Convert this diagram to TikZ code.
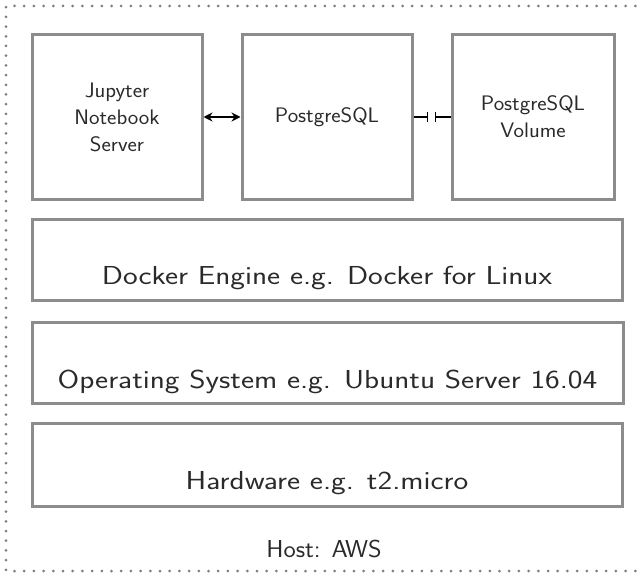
\documentclass[tikz,border=0pt]{standalone}
\usepackage{fontspec}
\newfontfamily\smallfont[FakeStretch=1.06]{Latin Modern Sans}
\newfontfamily\bigfont[FakeStretch=1.2]{Latin Modern Sans}
\usetikzlibrary{arrows.meta,calc}
\definecolor{boxgray}{HTML}{8C8C8C}
\definecolor{txt}{HTML}{2A2A2A}
\definecolor{dotgray}{HTML}{7E7E7E}
\begin{document}
\begin{tikzpicture}[x=1pt,y=-1pt,
  box/.style={draw=boxgray,line width=3pt,inner sep=0pt,fill=white},
  small/.style={text=txt,font=\smallfont\fontsize{21}{27}\selectfont,align=center,inner sep=0pt},
  hostlbl/.style={text=txt,font=\smallfont\fontsize{24.5}{30}\selectfont,inner sep=0pt},
  big/.style={text=txt,font=\bigfont\fontsize{26}{32}\selectfont,inner sep=0pt,anchor=base},
  dotborder/.style={draw=dotgray,line width=3pt,line cap=round,dash pattern=on 0pt off 9.7pt},
  conn/.style={draw=black,line width=1.5pt}]
\useasboundingbox (0,0) rectangle (639,575);
\draw[dotborder] (645,6) -- (6,6) -- (6,571) -- (645,571);
% top row
\node[box,minimum width=170pt,minimum height=164pt] (jup) at (117,117) {};
\node[small] (juptext) at (jup.center) {Jupyter\\Notebook\\Server};
\node[box,minimum width=170pt,minimum height=164pt] (pg) at (327,117) {};
\node[small] (pgtext) at (pg.center) {PostgreSQL};
\node[box,minimum width=162pt,minimum height=164pt] (vol) at (533,117) {};
\node[small] (voltext) at (vol.center) {PostgreSQL\\Volume};
% connectors
\draw[conn,{Stealth[length=9pt,width=9pt]}-{Stealth[length=9pt,width=9pt]}] (jup.east) -- (pg.west);
\coordinate (m1) at ($(pg.east)!0.40!(vol.west)$);
\coordinate (m2) at ($(pg.east)!0.58!(vol.west)$);
\draw[conn,-{Bar[width=10pt,line width=1.5pt]}] (pg.east) -- (m1);
\draw[conn,{Bar[width=10pt,line width=1.5pt]}-] (m2) -- (vol.west);
% layers
\node[box,minimum width=590pt,minimum height=81pt] (docker) at (327,259.5) {};
\node[big] (dockertext) at ([yshift=17pt]docker.south) {Docker Engine e.g. Docker for Linux};
\node[box,minimum width=591pt,minimum height=81pt] (os) at (327.5,362.5) {};
\node[big] (ostext) at ([yshift=16pt]os.south) {Operating System e.g. Ubuntu Server 16.04};
\node[box,minimum width=590pt,minimum height=83pt] (hw) at (327,464.5) {};
\node[big] (hwtext) at ([yshift=18pt]hw.south) {Hardware e.g. t2.micro};
\node[hostlbl,anchor=base] (host) at (324,557) {Host: AWS};
\end{tikzpicture}
\end{document}
